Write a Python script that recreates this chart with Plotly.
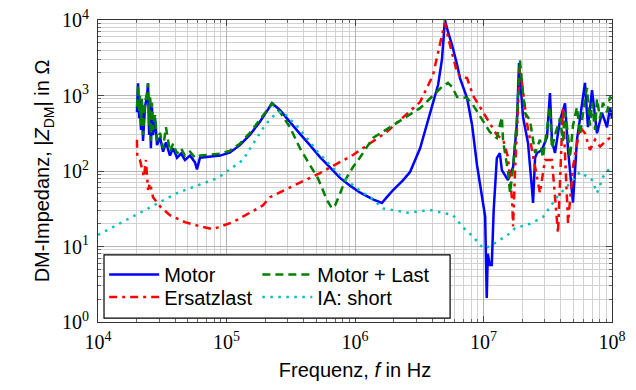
import plotly.graph_objects as go

# ---------------- data ----------------
motor_f = [2.01e4, 2.05e4, 2.09e4, 2.12e4, 2.16e4, 2.20e4, 2.24e4, 2.32e4, 2.41e4, 2.45e4,
           2.50e4, 2.54e4, 2.58e4, 2.63e4, 2.68e4, 2.78e4, 2.88e4, 3.04e4, 3.21e4, 3.38e4,
           3.63e4, 3.84e4, 4.12e4, 4.43e4, 4.75e4, 5.20e4, 5.69e4, 5.89e4, 6.22e4, 7.45e4,
           8.90e4, 1.06e5, 1.27e5, 1.52e5, 1.82e5, 2.10e5, 2.26e5, 2.61e5, 3.12e5, 3.73e5,
           4.46e5, 5.34e5, 6.39e5, 7.64e5, 9.15e5, 1.09e6, 1.38e6, 1.62e6, 1.77e6, 1.98e6,
           2.36e6, 2.68e6, 3.21e6, 3.63e6, 4.05e6, 4.43e6, 4.75e6, 5.01e6, 5.29e6, 5.69e6,
           6.22e6, 6.56e6, 7.45e6, 8.15e6, 8.90e6, 9.73e6, 1.03e7, 1.06e7, 1.08e7, 1.12e7,
           1.16e7, 1.20e7, 1.27e7, 1.34e7, 1.39e7, 1.55e7, 1.70e7, 1.82e7, 1.89e7, 2.03e7,
           2.22e7, 2.38e7, 2.43e7, 2.52e7, 2.61e7, 2.85e7, 3.12e7, 3.29e7, 3.41e7, 3.60e7,
           3.94e7, 4.31e7, 4.55e7, 4.97e7, 5.34e7, 5.64e7, 6.16e7, 6.50e7, 6.99e7, 7.64e7,
           8.36e7, 9.15e7, 9.65e7, 1.0e8]
motor_z = [600, 1450, 500, 900, 350, 800, 250, 700, 1000, 1450,
           300, 900, 200, 700, 300, 500, 220, 280, 180, 240,
           160, 200, 150, 170, 140, 160, 130, 105, 150, 155,
           160, 175, 220, 300, 450, 650, 790, 640, 440, 310,
           220, 153, 112, 81, 64, 52, 42, 37.7, 45, 56,
           75, 97, 200, 407, 800, 1377, 3000, 10000, 7000, 4670,
           2600, 1700, 927, 407, 120, 44, 25, 2.08, 8, 5.7,
           5.7, 30, 148, 173, 103, 76, 113, 432, 2700, 520,
           235, 60, 37.7, 150, 173, 190, 282, 1075, 250, 173,
           470, 790, 190, 38, 260, 500, 1470, 380, 1180, 316,
           590, 380, 700, 500]

last_f = [2.01e4, 2.05e4, 2.09e4, 2.12e4, 2.16e4, 2.20e4, 2.24e4, 2.32e4, 2.41e4, 2.45e4,
          2.50e4, 2.54e4, 2.58e4, 2.63e4, 2.68e4, 2.78e4, 2.88e4, 3.04e4, 3.21e4, 3.38e4,
          3.63e4, 3.84e4, 4.12e4, 4.43e4, 4.75e4, 5.20e4, 5.69e4, 6.22e4, 7.45e4, 8.90e4,
          1.06e5, 1.27e5, 1.52e5, 1.82e5, 2.10e5, 2.26e5, 2.61e5, 3.12e5, 3.73e5, 4.46e5,
          5.15e5, 5.64e5, 6.06e5, 6.62e5, 6.99e5, 7.64e5, 8.36e5, 9.65e5, 1.09e6, 1.38e6,
          1.98e6, 3.21e6, 4.05e6, 4.75e6, 5.29e6, 5.69e6, 6.22e6, 6.92e6, 7.45e6, 8.29e6,
          9.91e6, 1.12e7, 1.27e7, 1.34e7, 1.39e7, 1.42e7, 1.55e7, 1.61e7, 1.70e7, 1.82e7,
          1.92e7, 2.10e7, 2.30e7, 2.52e7, 2.75e7, 2.90e7, 3.12e7, 3.29e7, 3.41e7, 3.60e7,
          3.94e7, 4.15e7, 4.31e7, 4.55e7, 4.71e7, 4.97e7, 5.34e7, 5.64e7, 6.16e7, 6.39e7,
          6.74e7, 6.99e7, 7.38e7, 7.64e7, 8.07e7, 8.51e7, 9.15e7, 9.65e7, 1.0e8]
last_z = [700, 1400, 600, 1000, 400, 900, 300, 800, 1100, 1450,
          400, 1000, 250, 800, 350, 550, 250, 320, 200, 380,
          180, 230, 170, 200, 160, 180, 150, 160, 165, 170,
          185, 230, 320, 470, 660, 790, 600, 380, 200, 120,
          80, 55, 41, 32, 35, 50, 75, 113, 150, 274,
          407, 680, 1000, 1300, 1470, 1300, 960, 940, 930, 750,
          450, 330, 274, 400, 520, 250, 100, 51, 113, 500,
          2950, 590, 470, 173, 260, 150, 350, 700, 200, 300,
          500, 250, 600, 300, 150, 400, 700, 300, 900, 1260,
          400, 800, 350, 900, 500, 800, 600, 960, 900]

ersatz_f = [2.01e4, 2.02e4, 2.12e4, 2.20e4, 2.28e4, 2.36e4, 2.45e4, 2.54e4, 2.68e4, 3.04e4,
            3.63e4, 4.75e4, 6.22e4, 7.85e4, 1.12e5, 1.52e5, 1.92e5, 2.18e5, 3.12e5, 5.34e5,
            9.65e5, 1.77e6, 3.21e6, 4.05e6, 4.75e6, 5.01e6, 5.48e6, 6.22e6, 6.56e6, 7.45e6,
            8.29e6, 1.06e7, 1.27e7, 1.42e7, 1.55e7, 1.67e7, 1.70e7, 1.76e7, 1.92e7, 2.18e7,
            2.38e7, 2.75e7, 3.01e7, 3.41e7, 3.80e7, 4.15e7, 4.55e7, 4.97e7, 5.64e7, 6.16e7,
            6.74e7, 7.38e7, 8.07e7, 9.15e7, 1.0e8]
ersatz_z = [260, 153, 140, 103, 83, 140, 56, 69, 45, 34,
            26, 21, 18.5, 17, 21, 28, 35, 45, 60, 94,
            163, 330, 820, 1870, 6300, 9100, 4670, 2050, 1800, 1700,
            1000, 500, 300, 260, 153, 41, 18.5, 100, 2400, 430,
            190, 51, 140, 140, 15, 700, 20.5, 113, 380, 316,
            190, 260, 210, 260, 282]

short_f = [1.0e4, 1.94e4, 4.12e4, 8.59e4, 1.34e5, 2.0e5, 2.38e5, 2.70e5, 3.60e5, 5.15e5,
           7.64e5, 1.09e6, 1.38e6, 1.65e6, 2.58e6, 3.84e6, 5.79e6, 6.92e6, 8.29e6, 9.91e6,
           1.12e7, 1.27e7, 1.61e7, 1.76e7, 2.30e7, 2.90e7, 3.73e7, 4.71e7, 5.64e7, 6.99e7,
           7.64e7, 8.07e7, 8.51e7, 9.15e7, 1.0e8]
short_z = [14.2, 26, 51, 81, 140, 407, 560, 620, 380, 178,
           88, 55, 42, 32, 28, 30.5, 26, 18, 13.5, 9.5,
           10, 11.5, 15, 17.5, 20, 24.5, 45, 69, 97, 76,
           51, 65, 83, 100, 113]

series_names = ["Motor", "Ersatzlast", "Motor + Last", "IA: short"]
x_tickvals = [1e4, 1e5, 1e6, 1e7, 1e8]
x_ticktext = ["10<sup>4</sup>", "10<sup>5</sup>", "10<sup>6</sup>", "10<sup>7</sup>", "10<sup>8</sup>"]
y_tickvals = [1, 10, 100, 1000, 10000]
y_ticktext = ["10<sup>0</sup>", "10<sup>1</sup>", "10<sup>2</sup>", "10<sup>3</sup>", "10<sup>4</sup>"]

# ---------------- figure ----------------
fig = go.Figure()
lw = 2.5
fig.add_trace(go.Scatter(x=motor_f, y=motor_z, mode="lines", name=series_names[0],
                         line=dict(color="#0000ff", width=lw), legend="legend"))
fig.add_trace(go.Scatter(x=ersatz_f, y=ersatz_z, mode="lines", name=series_names[1],
                         line=dict(color="#ff0000", width=lw, dash="8px,5px,3px,5px"),
                         legend="legend3"))
fig.add_trace(go.Scatter(x=last_f, y=last_z, mode="lines", name=series_names[2],
                         line=dict(color="#008000", width=lw, dash="8px,5px"),
                         legend="legend2"))
fig.add_trace(go.Scatter(x=short_f, y=short_z, mode="lines", name=series_names[3],
                         line=dict(color="#00bfbf", width=lw, dash="2.5px,5.5px"),
                         legend="legend4"))

tick_font = dict(family="Liberation Serif, DejaVu Serif, serif", size=20, color="#000")
title_font = dict(family="Liberation Sans, Arial, sans-serif", size=20, color="#000")
axis_common = dict(
    type="log", tickmode="array", automargin=False,
    showgrid=True, gridcolor="#b4b4b4", gridwidth=1,
    ticks="inside", ticklen=6, tickcolor="#444",
    showline=True, linecolor="#333", linewidth=1.2, mirror="ticks",
    zeroline=False, tickfont=tick_font,
    minor=dict(dtick="D1", ticks="inside", ticklen=3, tickcolor="#666",
               showgrid=True, gridcolor="#d2d2d2", gridwidth=1),
)

fig.update_xaxes(**axis_common, range=[4, 8], tickvals=x_tickvals, ticktext=x_ticktext,
                 ticklabelstandoff=2,
                 title=dict(text="Frequenz, <i>f</i> in Hz", standoff=10, font=title_font))
fig.update_yaxes(**axis_common, range=[0, 4], tickvals=y_tickvals, ticktext=y_ticktext,
                 ticklabelstandoff=4,
                 title=dict(text="DM-Impedanz, |<i>Z</i><sub>DM</sub>| in Ω", standoff=6,
                            font=title_font))

leg_font = dict(family="Liberation Sans, Arial, sans-serif", size=20, color="#000")
leg_common = dict(xanchor="left", yanchor="middle", bgcolor="rgba(0,0,0,0)",
                  font=leg_font, itemwidth=50, tracegroupgap=0)
row1, row2 = 0.157, 0.083
col1, col2 = 0.012, 0.31
fig.update_layout(
    width=636, height=390,
    margin=dict(l=98, r=24, t=20, b=68),
    plot_bgcolor="white", paper_bgcolor="white",
    showlegend=True,
    legend=dict(x=col1, y=row1, **leg_common),
    legend2=dict(x=col2, y=row1, **leg_common),
    legend3=dict(x=col1, y=row2, **leg_common),
    legend4=dict(x=col2, y=row2, **leg_common),
    shapes=[dict(type="rect", xref="paper", yref="paper", x0=0.0117, x1=0.685,
                 y0=0.013, y1=0.222, fillcolor="white", line=dict(color="#000", width=1.2),
                 layer="above")],
)

fig.write_html("out.html")
